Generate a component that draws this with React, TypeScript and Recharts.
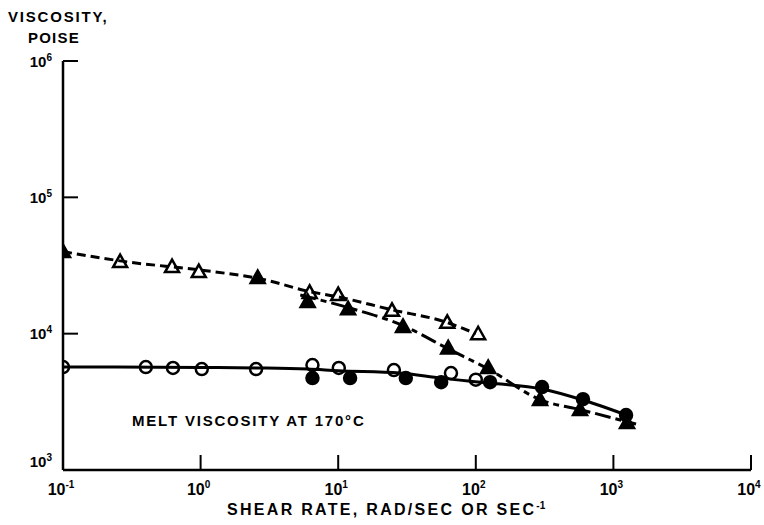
import React from 'react';
import { ComposedChart, XAxis, YAxis, Line, Scatter, Customized } from 'recharts';

const xTicks = [0.1, 1, 10, 100, 1000, 10000];
const xTickExp = ['-1', '0', '1', '2', '3', '4'];
const yTicks = [1000, 10000, 100000, 1000000];
const yTickExp = ['3', '4', '5', '6'];

const openTriX = [0.26, 0.62, 0.97, 6.2, 10, 24.6, 62, 104];
const openTriY = [33500, 30800, 28300, 19900, 19200, 14700, 12000, 9900];
const filledTriX = [0.1, 2.6, 6.0, 11.8, 29.6, 63, 123, 293, 572, 1256];
const filledTriY = [39700, 25600, 17100, 15100, 11200, 7800, 5600, 3260, 2750, 2210];
const openCircX = [0.1, 0.4, 0.63, 1.02, 2.53, 6.5, 10.1, 25.4, 66, 100];
const openCircY = [5690, 5690, 5600, 5500, 5500, 5890, 5600, 5410, 5140, 4600];
const filledCircX = [6.5, 12.2, 31, 56, 127, 303, 601, 1236];
const filledCircY = [4720, 4720, 4720, 4410, 4410, 4060, 3310, 2530];

const curveAX = [0.1, 0.3, 1, 3, 6, 10, 25, 60, 100];
const curveAY = [40000, 33500, 29300, 24700, 20500, 18600, 14900, 12200, 10000];
const curveBX = [5.3, 12.2, 30, 62, 123, 298, 592, 1460];
const curveBY = [19200, 15400, 11400, 7800, 5500, 3260, 2750, 2170];
const curveCX = [0.1, 1, 3, 6, 10, 28, 56, 127, 303, 601, 1350];
const curveCY = [5700, 5650, 5600, 5500, 5350, 5140, 4720, 4340, 3930, 3260, 2450];

const zip = (xs: number[], ys: number[]) => xs.map((x, i) => ({ x, y: ys[i] }));

const openTri = zip(openTriX, openTriY);
const filledTri = zip(filledTriX, filledTriY);
const openCirc = zip(openCircX, openCircY);
const filledCirc = zip(filledCircX, filledCircY);
const curveA = zip(curveAX, curveAY);
const curveB = zip(curveBX, curveBY);
const curveC = zip(curveCX, curveCY);

const FONT = '"Liberation Sans", Arial, Helvetica, sans-serif';

const triShape = (filled: boolean) => (props: any) => {
  const { cx, cy } = props;
  if (cx == null || cy == null) return <g />;
  const pts = `${cx},${cy - 7.5} ${cx - 7},${cy + 5} ${cx + 7},${cy + 5}`;
  return (
    <polygon
      points={pts}
      fill={filled ? '#000' : 'none'}
      stroke="#000"
      strokeWidth={2.5}
      strokeLinejoin="miter"
    />
  );
};

const circShape = (filled: boolean) => (props: any) => {
  const { cx, cy } = props;
  if (cx == null || cy == null) return <g />;
  return <circle cx={cx} cy={cy} r={6} fill={filled ? '#000' : 'none'} stroke="#000" strokeWidth={2.5} />;
};

const XTick = (props: any) => {
  const { x, y, payload } = props;
  const idx = xTicks.indexOf(payload.value);
  const exp = idx >= 0 ? xTickExp[idx] : '';
  return (
    <g>
      <line x1={x} x2={x} y1={y} y2={y - 15} stroke="#000" strokeWidth={2} />
      <text x={x - 2} y={y + 25} textAnchor="middle" fontFamily={FONT} fontWeight="bold" fontSize={16} fill="#000">
        10
        <tspan dy={-7} fontSize={10}>{exp}</tspan>
      </text>
    </g>
  );
};

const YTick = (props: any) => {
  const { x, y, payload } = props;
  const idx = yTicks.indexOf(payload.value);
  const exp = idx >= 0 ? yTickExp[idx] : '';
  const base = payload.value === 1000 ? y - 3 : y + 5.5;
  return (
    <g>
      <line x1={x} x2={x + 15} y1={y} y2={y} stroke="#000" strokeWidth={2} />
      <text x={x - 11} y={base} textAnchor="end" fontFamily={FONT} fontWeight="bold" fontSize={15} fill="#000">
        10
        <tspan dy={-6} fontSize={10}>{exp}</tspan>
      </text>
    </g>
  );
};

const Labels = () => (
  <g fontFamily={FONT} fill="#000" fontWeight="bold">
    <text x={8} y={22} fontSize={15} letterSpacing={1.8}>VISCOSITY,</text>
    <text x={28} y={43} fontSize={15} letterSpacing={1.2}>POISE</text>
    <text x={132} y={426} fontSize={15} letterSpacing={1.8}>MELT VISCOSITY AT 170°C</text>
    <text x={227} y={515} fontSize={16} letterSpacing={2.3}>
      SHEAR RATE, RAD/SEC OR SEC
      <tspan dy={-6} fontSize={10} letterSpacing={0}>-1</tspan>
    </text>
  </g>
);

export default function App() {
  return (
    <div style={{ width: 764, height: 525, overflow: 'hidden', background: '#fff' }}>
      <style>{`body{margin:0;background:#fff}`}</style>
      <ComposedChart width={764} height={525} margin={{ top: 61, right: 13, bottom: 5, left: 3 }}>
        <XAxis
          type="number"
          dataKey="x"
          scale="log"
          domain={[0.1, 10000]}
          ticks={xTicks}
          allowDataOverflow
          height={50}
          tickSize={0}
          tickMargin={0}
          tickLine={false}
          axisLine={{ stroke: '#000', strokeWidth: 2.5 }}
          tick={<XTick />}
          interval={0}
        />
        <YAxis
          type="number"
          dataKey="y"
          scale="log"
          domain={[1000, 1000000]}
          ticks={yTicks}
          allowDataOverflow
          width={60}
          tickSize={0}
          tickMargin={0}
          tickLine={false}
          axisLine={{ stroke: '#000', strokeWidth: 2.5 }}
          tick={<YTick />}
          interval={0}
        />
        <Line data={curveA} dataKey="y" type="monotone" stroke="#000" strokeWidth={3} strokeDasharray="9 5" dot={false} isAnimationActive={false} />
        <Line data={curveB} dataKey="y" type="monotone" stroke="#000" strokeWidth={3} strokeDasharray="16 5 6 5" dot={false} isAnimationActive={false} />
        <Line data={curveC} dataKey="y" type="monotone" stroke="#000" strokeWidth={3} dot={false} isAnimationActive={false} />
        <Scatter data={openTri} dataKey="y" shape={triShape(false)} isAnimationActive={false} />
        <Scatter data={filledTri} dataKey="y" shape={triShape(true)} isAnimationActive={false} />
        <Scatter data={openCirc} dataKey="y" shape={circShape(false)} isAnimationActive={false} />
        <Scatter data={filledCirc} dataKey="y" shape={circShape(true)} isAnimationActive={false} />
        <Customized component={<Labels />} />
      </ComposedChart>
    </div>
  );
}
